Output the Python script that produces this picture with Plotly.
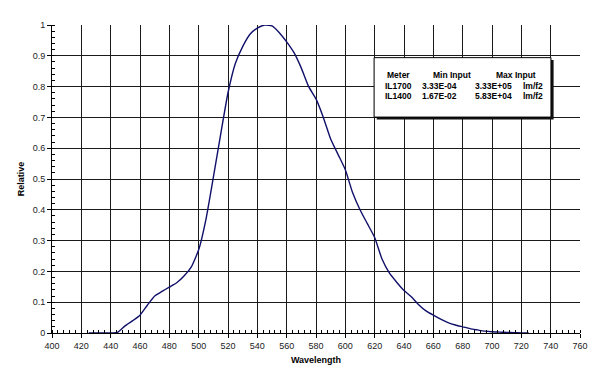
import plotly.graph_objects as go

# Spectral response curve
wavelength = [425, 430, 435, 440, 445, 450, 455, 460, 465, 470, 475, 480, 485, 490, 495,
              500, 505, 510, 515, 520, 525, 530, 535, 540, 545, 550, 555, 560, 565, 570,
              575, 580, 585, 590, 595, 600, 605, 610, 615, 620, 625, 630, 635, 640, 645,
              650, 655, 660, 665, 670, 675, 680, 685, 690, 695, 700, 705, 710, 715, 720, 725]
relative = [0.0, 0.0, 0.0, 0.0, 0.003, 0.024, 0.040, 0.058, 0.090, 0.120, 0.135, 0.149, 0.163, 0.185, 0.215,
            0.270, 0.370, 0.505, 0.645, 0.780, 0.875, 0.930, 0.970, 0.990, 1.000, 0.997, 0.975, 0.945, 0.910, 0.860,
            0.800, 0.760, 0.700, 0.630, 0.580, 0.530, 0.455, 0.400, 0.355, 0.310, 0.240, 0.195, 0.165, 0.138, 0.118,
            0.092, 0.072, 0.058, 0.045, 0.034, 0.026, 0.020, 0.014, 0.010, 0.006, 0.004, 0.003, 0.002, 0.001, 0.0005, 0.0]

# Table of meters
table_header = ["Meter", "Min Input", "Max Input"]
meters = ["IL1700", "IL1400"]
min_inputs = ["3.33E-04", "1.67E-02"]
max_inputs = ["3.33E+05", "5.83E+04"]
units = ["lm/f2", "lm/f2"]

fig = go.Figure()
fig.add_trace(go.Scatter(x=wavelength, y=relative, mode="lines",
                         line=dict(color="#10106a", width=1.4, shape="spline", smoothing=0.5),
                         hoverinfo="x+y", showlegend=False))

axis_font = dict(family="Liberation Sans, Arial, sans-serif", size=9, color="#222")
fig.update_layout(
    width=592, height=372,
    margin=dict(l=37, r=17, t=14, b=47),
    paper_bgcolor="white", plot_bgcolor="white",
    showlegend=False,
    xaxis=dict(range=[400, 760], dtick=20, tick0=400, showgrid=True, gridcolor="#1a1a1a", gridwidth=1,
               showline=True, linecolor="black", linewidth=1, mirror=False,
               ticks="outside", ticklen=4, tickcolor="black", tickfont=axis_font,
               minor=dict(dtick=4, ticks="inside", ticklen=3, tickcolor="black", showgrid=False),
               zeroline=False,
               title=dict(text="<b>Wavelength</b>", font=dict(family="Liberation Sans, Arial, sans-serif", size=9, color="black"), standoff=6)),
    yaxis=dict(range=[0, 1], dtick=0.1, showgrid=True, gridcolor="#1a1a1a", gridwidth=1,
               showline=True, linecolor="black", linewidth=1,
               ticks="outside", ticklen=4, tickcolor="black", tickfont=axis_font,
               minor=dict(dtick=0.02, ticks="inside", ticklen=3, tickcolor="black", showgrid=False),
               zeroline=False,
               title=dict(text="<b>Relative</b>", font=dict(family="Liberation Sans, Arial, sans-serif", size=9, color="black"), standoff=6)),
)

# Table box with shadow
bx0, bx1, by0, by1 = 0.610, 0.945, 0.701, 0.894
fig.add_shape(type="rect", xref="paper", yref="paper", x0=bx0 + 0.005, x1=bx1 + 0.005,
              y0=by0 - 0.008, y1=by1 - 0.008, fillcolor="#111", line=dict(width=0), layer="above")
fig.add_shape(type="rect", xref="paper", yref="paper", x0=bx0, x1=bx1, y0=by0, y1=by1,
              fillcolor="white", line=dict(color="black", width=1), layer="above")

tfont = dict(family="Liberation Sans, Arial, sans-serif", size=8.5, color="black")
header_x = [0.656, 0.758, 0.878]
for txt, xp in zip(table_header, header_x):
    fig.add_annotation(x=xp, y=0.837, xref="paper", yref="paper", text="<b>%s</b>" % txt,
                       showarrow=False, font=tfont, xanchor="center", yanchor="middle")
row_y = [0.803, 0.768]
for i in range(len(meters)):
    for txt, xp in zip([meters[i], min_inputs[i], max_inputs[i], units[i]], [0.656, 0.734, 0.837, 0.911]):
        fig.add_annotation(x=xp, y=row_y[i], xref="paper", yref="paper", text="<b>%s</b>" % txt,
                           showarrow=False, font=tfont, xanchor="center", yanchor="middle")

fig.write_html("out.html")
